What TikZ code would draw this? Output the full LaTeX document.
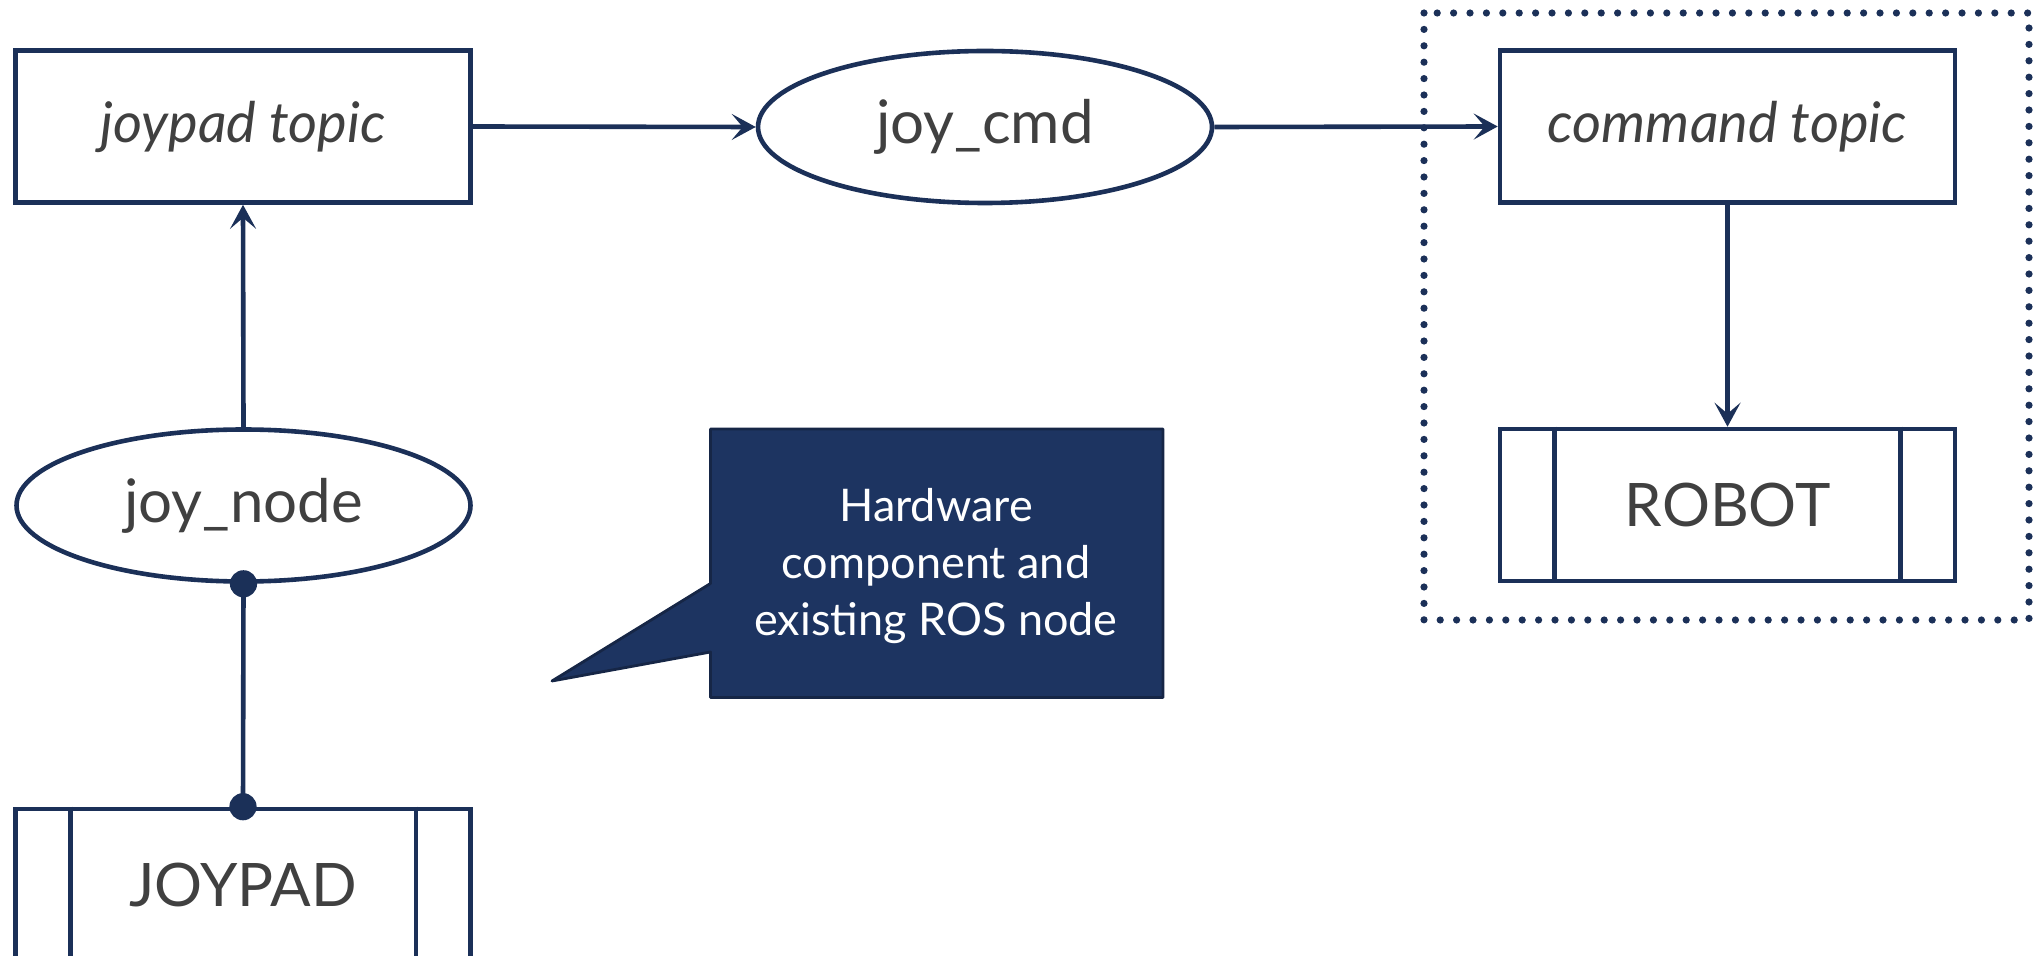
\documentclass[tikz,border=0pt]{standalone}
\usepackage{fontspec}
\setmainfont{Lato}
\usetikzlibrary{arrows.meta,shapes.geometric}
\definecolor{navy}{HTML}{1B3058}
\definecolor{calloutfill}{HTML}{1D3461}
\definecolor{ink}{HTML}{404040}
\tikzset{
  x=0.5pt, y=-0.5pt,
  every node/.style={text=ink, font=\fontsize{30}{36}\selectfont},
  topicbox/.style={draw=navy, line width=2.3pt, rectangle, minimum width=227.5pt, minimum height=76pt, inner sep=0pt, font=\fontsize{28}{34}\selectfont\itshape},
  rosnode/.style={draw=navy, line width=2.3pt, ellipse, minimum width=227pt, minimum height=76pt, inner sep=0pt},
  hwbox/.style={draw=navy, line width=2.3pt, rectangle, minimum width=227.5pt, minimum height=76pt, inner sep=0pt},
  flow/.style={draw=navy, line width=2.3pt, -{Stealth[length=12pt,width=13pt,inset=5.5pt]}},
  link/.style={draw=navy, line width=2.3pt},
  pin/.style={fill=navy, draw=none},
  groupbox/.style={draw=navy, line width=3.6pt, line cap=round, dash pattern=on 0pt off 8.2pt},
}
\begin{document}
\begin{tikzpicture}
\useasboundingbox (0,0) rectangle (2033,956);

% topics, nodes and hardware
\node[topicbox] (jtopic) at (243,126.5) {joypad topic};
\node[rosnode]  (jcmd)   at (985,127)   {joy\_cmd};
\node[topicbox] (ctopic) at (1727.5,126.5) {command topic};
\node[hwbox]    (robot)  at (1727.5,505) {ROBOT};
\node[rosnode]  (jnode)  at (243.5,505.5) {joy\_node};
\node[hwbox]    (joypad) at (243,885)   {JOYPAD};

% side bars of the hardware boxes
\draw[link] ([xshift=28.5pt]robot.north west) -- ([xshift=28.5pt]robot.south west);
\draw[link] ([xshift=-28.5pt]robot.north east) -- ([xshift=-28.5pt]robot.south east);
\draw[link] ([xshift=28.5pt]joypad.north west) -- ([xshift=28.5pt]joypad.south west);
\draw[link] ([xshift=-28.5pt]joypad.north east) -- ([xshift=-28.5pt]joypad.south east);

% group around the robot side
\draw[groupbox] (1424,13) rectangle (2029,620);

% connectors
\draw[flow] (jnode.north) -- (jtopic.south);
\draw[flow] (jtopic.east) -- (jcmd.west);
\draw[flow] (jcmd.east) -- (ctopic.west);
\draw[flow] (ctopic.south) -- (robot.north);
\draw[link] (jnode.south) -- (joypad.north);
\fill[pin] (jnode.south) circle (6.8pt);
\fill[pin] (joypad.north) circle (6.8pt);

% callout
\coordinate (tip) at (552,681);
\fill[calloutfill, draw=navy!80!black, line width=1.4pt, line join=round]
  (710.5,429) -- (1163,429) -- (1163,697.5) -- (710.5,697.5) -- (710.5,652)
  -- (tip) -- (710.5,583.5) -- cycle;
\node[text=white, align=center, font=\fontsize{22.5}{28.5}\selectfont] (note) at (936,566)
  {Hardware\\component and\\existing ROS node};
\end{tikzpicture}
\end{document}
